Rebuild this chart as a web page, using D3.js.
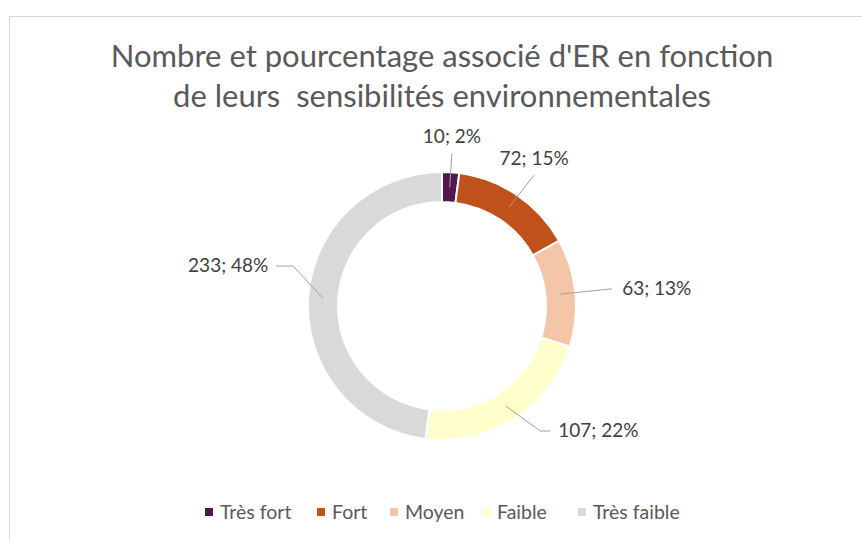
<!DOCTYPE html>
<html>
<head>
<meta charset="utf-8">
<script src="https://cdn.jsdelivr.net/npm/d3@7"></script>
<style>
  body { margin: 0; background: #fff; }
  svg { display: block; font-family: Lato, "Open Sans", sans-serif; }
</style>
</head>
<body>
<div id="chart"></div>
<script>
// data
var categories = ["Très fort", "Fort", "Moyen", "Faible", "Très faible"];
var counts = [10, 72, 63, 107, 233];
var colors = ["#52174F", "#C0511A", "#F5C5A7", "#FFFFCC", "#D9D9D9"];
var titleLines = ["Nombre et pourcentage associé d'ER en fonction", "de leurs  sensibilités environnementales"];

var width = 862, height = 540;
var cx = 442, cy = 306;
var outerR = 134, innerR = 104;

var svg = d3.select("#chart").append("svg")
  .attr("width", width)
  .attr("height", height);

// chart area border
svg.append("rect")
  .attr("x", 9.5).attr("y", 16.5)
  .attr("width", width).attr("height", height)
  .attr("fill", "#fff")
  .attr("stroke", "#D9D9D9");

svg.append("text")
  .attr("x", cx).attr("y", 67)
  .attr("text-anchor", "middle")
  .attr("fill", "#595959")
  .style("font-size", "31px")
  .style("white-space", "pre")
  .selectAll("tspan")
  .data(titleLines)
  .enter().append("tspan")
  .attr("x", cx)
  .attr("dy", function(d, i) { return i === 0 ? 0 : 40; })
  .text(function(d) { return d; });

var total = d3.sum(counts);
var data = categories.map(function(c, i) { return {key: c, value: counts[i], color: colors[i]}; });

var pie = d3.pie().sort(null).value(function(d) { return d.value; });
var arc = d3.arc().innerRadius(innerR).outerRadius(outerR);

var g = svg.append("g").attr("transform", "translate(" + cx + "," + cy + ")");

var arcs = pie(data);

g.selectAll("path")
  .data(arcs)
  .enter().append("path")
  .attr("d", arc)
  .attr("fill", function(d) { return d.data.color; })
  .attr("stroke", "#fff")
  .attr("stroke-width", 2);

// labels with leader lines (Excel style, some nudged by hand)
var angleNudge = [0, 1, 0, -5.5, 11.5];
var elbowR = [153, 160, 171, 159, 154];
var midR = (innerR + outerR) / 2;

function polar(a, r) { return [Math.sin(a) * r, -Math.cos(a) * r]; }

arcs.forEach(function(d, i) {
  var mid = (d.startAngle + d.endAngle) / 2;
  var p0 = polar(mid, midR);
  var p1 = polar(mid + angleNudge[i] * Math.PI / 180, elbowR[i]);
  var pct = Math.round(d.value / total * 100);
  var txt = d.value + "; " + pct + "%";
  var pts = [p0, p1];
  var tx, ty, anchor, p2;
  var deg = mid * 180 / Math.PI;
  if (deg < 45) {
    tx = p1[0]; ty = p1[1] - 10; anchor = "middle";
  } else if (deg < 100) {
    tx = p1[0] + 10; ty = p1[1] + 6; anchor = "start";
  } else if (deg < 180) {
    p2 = [p1[0] + 10, p1[1]];
    pts.push(p2);
    tx = p2[0] + 8; ty = p2[1] + 6; anchor = "start";
  } else {
    p2 = [p1[0] - 17, p1[1]];
    pts.push(p2);
    tx = p2[0] - 8; ty = p2[1] + 6; anchor = "end";
  }
  g.append("path")
    .attr("d", d3.line()(pts))
    .attr("fill", "none")
    .attr("stroke", "#A0A0A0")
    .attr("stroke-width", 1);
  g.append("text")
    .attr("x", tx).attr("y", ty)
    .attr("text-anchor", anchor)
    .attr("fill", "#404040")
    .style("font-size", "19px")
    .text(txt);
});

// legend
var legendX = [205, 317, 390, 482, 578];
var legend = svg.append("g");
data.forEach(function(d, i) {
  legend.append("rect")
    .attr("x", legendX[i]).attr("y", 508)
    .attr("width", 8).attr("height", 8)
    .attr("fill", d.color);
  legend.append("text")
    .attr("x", legendX[i] + 15).attr("y", 519)
    .attr("fill", "#595959")
    .style("font-size", "19.5px")
    .text(d.key);
});
</script>
</body>
</html>
